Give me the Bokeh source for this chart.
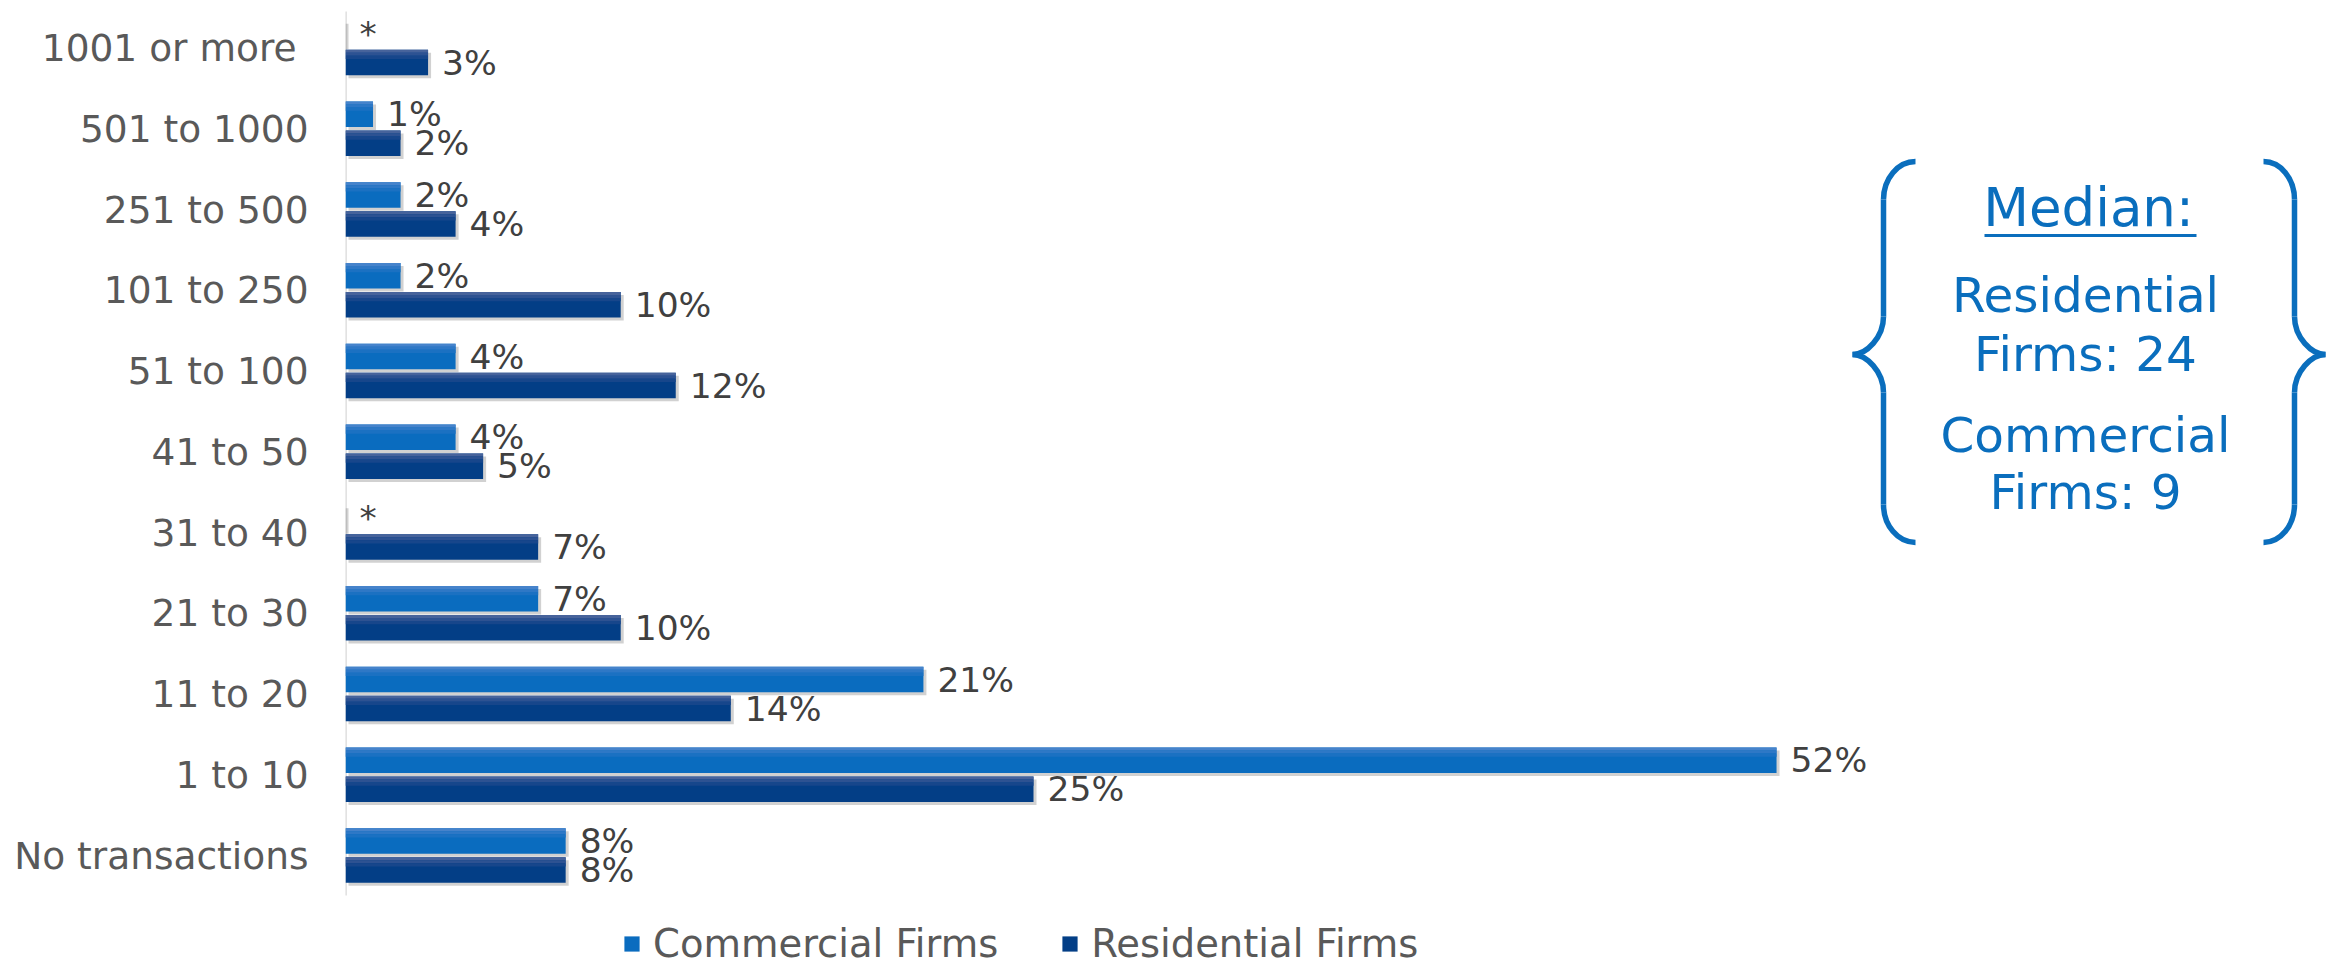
from bokeh.plotting import figure
from bokeh.models import ColumnDataSource, FixedTicker, Range1d, Legend, LegendItem
from bokeh.core.properties import value
from bokeh.embed import file_html
from bokeh.resources import INLINE

# ---------------- data ----------------
categories = ["No transactions", "1 to 10", "11 to 20", "21 to 30", "31 to 40",
              "41 to 50", "51 to 100", "101 to 250", "251 to 500", "501 to 1000",
              "1001 or more "]
commercial = [8, 52, 21, 7, 0, 4, 4, 2, 2, 1, 0]
residential = [8, 25, 14, 10, 7, 5, 12, 10, 4, 2, 3]
commercial_labels = ["8%", "52%", "21%", "7%", "*", "4%", "4%", "2%", "2%", "1%", "*"]
residential_labels = ["8%", "25%", "14%", "10%", "7%", "5%", "12%", "10%", "4%", "2%", "3%"]
series_names = ["Commercial Firms", "Residential Firms"]
median_title = "Median:"
median_lines = ["Residential", "Firms: 24", "Commercial", "Firms: 9"]

# ---------------- layout / style ----------------
W, H = 2336, 968
FRAME_LEFT = 345
PX_PER_PCT = 27.52
CAT_PX = 80.75
X_END = (W - FRAME_LEFT) / PX_PER_PCT
Y_END = 10 + 47.5 / CAT_PX
Y_START = Y_END - H / CAT_PX
BAR_H = 25.5 / CAT_PX
BAR_OFF = 14.5 / CAT_PX
FONT = "DejaVu Sans"
COM_COLOR = "#0A6CBF"
RES_COLOR = "#033E86"
COM_BANDS = ["#4683CB", "#2E78C6", "#1B71C2"]
RES_BANDS = ["#47639B", "#2D5292", "#17468B"]
BLUE_TXT = "#0A6EBD"


def X(px):
    return (px - FRAME_LEFT) / PX_PER_PCT


def Y(py):
    return Y_END - py / CAT_PX


n = len(categories)
idx = list(range(n))
y_com = [i + BAR_OFF for i in idx]
y_res = [i - BAR_OFF for i in idx]

src_com = ColumnDataSource(dict(y=y_com, v=commercial, lab=commercial_labels))
src_res = ColumnDataSource(dict(y=y_res, v=residential, lab=residential_labels))

p = figure(width=W, height=H, x_range=Range1d(0, X_END), y_range=Range1d(Y_START, Y_END),
           output_backend="svg", toolbar_location=None, x_axis_location=None,
           min_border_left=FRAME_LEFT, min_border_right=0, min_border_top=0,
           min_border_bottom=0)
p.outline_line_color = None
p.grid.visible = False
p.background_fill_color = "white"

yax = p.yaxis[0]
yax.ticker = FixedTicker(ticks=idx)
yax.major_label_overrides = {i: c for i, c in zip(idx, categories)}
yax.axis_line_color = None
yax.major_tick_line_color = None
yax.minor_tick_line_color = None
yax.major_label_standoff = 31
yax.major_label_text_font = FONT
yax.major_label_text_font_size = "37.5px"
yax.major_label_text_color = "#595959"

# axis line
p.segment(x0=[0], y0=[Y(11)], x1=[0], y1=[Y(895)], line_color="#D9D9D9", line_width=2.5)

# shadows
dx = 3 / PX_PER_PCT
dy = 3 / CAT_PX
sh_com = ColumnDataSource(dict(y=[v - dy for v in y_com], r=[v + dx if v > 0 else 0 for v in commercial]))
sh_res = ColumnDataSource(dict(y=[v - dy for v in y_res], r=[v + dx if v > 0 else 0 for v in residential]))
for s in (sh_com, sh_res):
    p.hbar(y="y", left=dx, right="r", height=BAR_H, source=s, fill_color="#7A7A7A",
           fill_alpha=0.35, line_color=None)

# bars
r_com = p.hbar(y="y", left=0, right="v", height=BAR_H, source=src_com,
               fill_color=COM_COLOR, line_color=None)
r_res = p.hbar(y="y", left=0, right="v", height=BAR_H, source=src_res,
               fill_color=RES_COLOR, line_color=None)

# gradient-like highlight bands on the top part of each bar
band_h = BAR_H * 0.12
for k in range(3):
    for yy, vals, cols in ((y_com, commercial, COM_BANDS), (y_res, residential, RES_BANDS)):
        ys = [y + BAR_H / 2 - band_h * (k + 0.5) for y in yy]
        p.hbar(y=ys, left=0, right=vals, height=band_h, fill_color=cols[k], line_color=None)

# value labels
for src in (src_com, src_res):
    p.text(x="v", y="y", text="lab", source=src, x_offset=14, text_baseline="middle",
           text_align="left", text_font=value(FONT), text_font_size="34.5px",
           text_color="#404040")

# legend
legend = Legend(items=[LegendItem(label=series_names[0], renderers=[r_com]),
                       LegendItem(label=series_names[1], renderers=[r_res])],
                orientation="horizontal", location=(277, 2), padding=0, margin=0,
                spacing=62, label_standoff=12, glyph_width=19, glyph_height=19,
                label_text_font=FONT, label_text_font_size="38.5px",
                label_text_color="#595959", border_line_color=None,
                background_fill_alpha=0)
p.add_layout(legend)

# median box text
cx = X(2085)
p.text(x=[cx + 3 / PX_PER_PCT], y=[Y(207)], text=[median_title], text_align="center",
       text_baseline="middle", text_font=value(FONT), text_font_size="53px",
       text_color=BLUE_TXT)
p.segment(x0=[X(1984)], y0=[Y(235)], x1=[X(2196)], y1=[Y(235)], line_color=BLUE_TXT,
          line_width=3)
line_y = [294, 353, 434, 491]
p.text(x=[cx] * len(median_lines), y=[Y(v) for v in line_y], text=median_lines,
       text_align="center", text_baseline="middle", text_font=value(FONT),
       text_font_size="48.5px", text_color=BLUE_TXT)


# braces
def brace(xv, xtip, xpt, top, mid, bot, r):
    bz = dict(x0=[], y0=[], x1=[], y1=[], cx0=[], cy0=[], cx1=[], cy1=[])
    sg = dict(x0=[], y0=[], x1=[], y1=[])
    k = 0.55

    def add_b(p0, p1, c0, c1):
        bz["x0"].append(X(p0[0])); bz["y0"].append(Y(p0[1]))
        bz["x1"].append(X(p1[0])); bz["y1"].append(Y(p1[1]))
        bz["cx0"].append(X(c0[0])); bz["cy0"].append(Y(c0[1]))
        bz["cx1"].append(X(c1[0])); bz["cy1"].append(Y(c1[1]))

    add_b((xtip, top), (xv, top + r), (xv + (xtip - xv) * (1 - k), top), (xv, top + r * (1 - k)))
    sg["x0"].append(X(xv)); sg["y0"].append(Y(top + r)); sg["x1"].append(X(xv)); sg["y1"].append(Y(mid - r))
    add_b((xv, mid - r), (xpt, mid), (xv, mid - r * (1 - k)), (xpt + (xv - xpt) * (1 - k), mid))
    add_b((xpt, mid), (xv, mid + r), (xpt + (xv - xpt) * (1 - k), mid), (xv, mid + r * (1 - k)))
    sg["x0"].append(X(xv)); sg["y0"].append(Y(mid + r)); sg["x1"].append(X(xv)); sg["y1"].append(Y(bot - r))
    add_b((xv, bot - r), (xtip, bot), (xv, bot - r * (1 - k)), (xv + (xtip - xv) * (1 - k), bot))
    return bz, sg


for (xv, xtip, xpt) in ((1883, 1915, 1852), (2294, 2263, 2325)):
    bz, sg = brace(xv, xtip, xpt, 161, 354, 542, 38)
    p.bezier(source=ColumnDataSource(bz), x0="x0", y0="y0", x1="x1", y1="y1", cx0="cx0",
             cy0="cy0", cx1="cx1", cy1="cy1", line_color=BLUE_TXT, line_width=5.5)
    p.segment(source=ColumnDataSource(sg), x0="x0", y0="y0", x1="x1", y1="y1",
              line_color=BLUE_TXT, line_width=5.5)

open("out.html", "w").write(file_html(p, INLINE))
